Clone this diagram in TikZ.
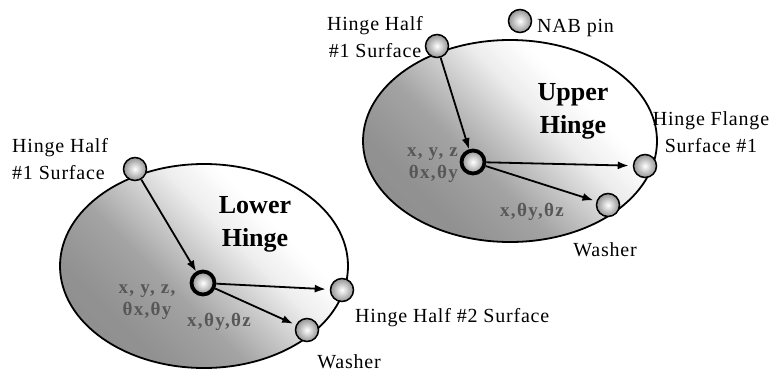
\documentclass[tikz,border=0pt]{standalone}
\usepackage{fontspec}
\setmainfont{Liberation Serif}
\usetikzlibrary{arrows.meta}
\pgfdeclareverticalshading{hingeshade}{100bp}{color(0bp)=(black!46); color(30bp)=(black!43); color(42bp)=(black!36); color(50bp)=(black!22); color(58bp)=(black!7); color(66bp)=(white); color(100bp)=(white)}
\tikzset{
  outline/.style={draw=black, line width=1.8pt},
  body/.style={outline, shading=hingeshade, shading angle=-45},
  pt/.style={circle, draw=black, line width=1.5pt, minimum size=23pt, inner sep=0pt, inner color=white, outer color=black!42},
  ctr/.style={circle, draw=black, line width=3.8pt, minimum size=23pt, inner sep=0pt, inner color=white, outer color=black!42},
  arr/.style={draw=black, line width=1.8pt, -{Latex[length=11pt,width=8pt]}},
  lbl/.style={font=\fontsize{20}{27}\selectfont\addfontfeature{LetterSpace=4}, inner sep=0pt},
  ttl/.style={font=\fontsize{26}{33}\selectfont\bfseries, inner sep=0pt, align=center},
  dof/.style={font=\fontsize{19}{22}\selectfont\bfseries\addfontfeature{LetterSpace=7}, text=black!66, inner sep=0pt}
}
\begin{document}
\begin{tikzpicture}[x=1pt, y=-1pt]
\useasboundingbox (0,0) rectangle (775,375);
% Lower hinge
\coordinate (lo) at (204,266);
\shade[body] (lo) ellipse [x radius=144, y radius=102];
\node[pt] (lh1) at (135,169) {};
\node[ctr] (lc) at (203,283) {};
\node[pt] (lh2) at (342,290) {};
\node[pt] (lw) at (307,330) {};
\draw[arr] (lh1) -- (lc);
\draw[arr, shorten >=4pt] (lc) -- (lh2);
\draw[arr, shorten >=3pt] (lc) -- (lw);
\node[lbl, align=left, anchor=west] (lt1) at (12,159) {Hinge Half\\\#1 Surface};
\node[ttl] (lt) at (255,224) {Lower\\Hinge};
\node[dof, align=center] (ld1) at (147,302) {x, y, z,\\θx,θy};
\node[dof] (ld2) at (219,322) {x,θy,θz};
\node[lbl, anchor=west] (lt2) at (355,318) {Hinge Half \#2 Surface};
\node[lbl] (lt3) at (349,362) {Washer};
% Upper hinge
\coordinate (uo) at (510,141);
\shade[body] (uo) ellipse [x radius=147, y radius=101];
\node[pt] (uh1) at (437,46) {};
\node[pt] (un) at (520,21) {};
\node[ctr] (uc) at (473,162) {};
\node[pt] (uf) at (645,166) {};
\node[pt] (uw) at (608,205) {};
\draw[arr] (uh1) -- (uc);
\draw[arr, shorten >=4pt] (uc) -- (uf);
\draw[arr, shorten >=3pt] (uc) -- (uw);
\node[lbl, align=center] (ut1) at (375,37) {Hinge Half\\\#1 Surface};
\node[lbl, anchor=west] (ut2) at (537,28) {NAB pin};
\node[ttl] (ut) at (573,111) {Upper\\Hinge};
\node[dof, align=right, anchor=east] (ud1) at (458,165) {x, y, z\\θx,θy};
\node[dof] (ud2) at (532,212) {x,θy,θz};
\node[lbl, align=center] (ut3) at (711,132) {Hinge Flange\\Surface \#1};
\node[lbl] (ut4) at (605,250) {Washer};
\end{tikzpicture}
\end{document}
